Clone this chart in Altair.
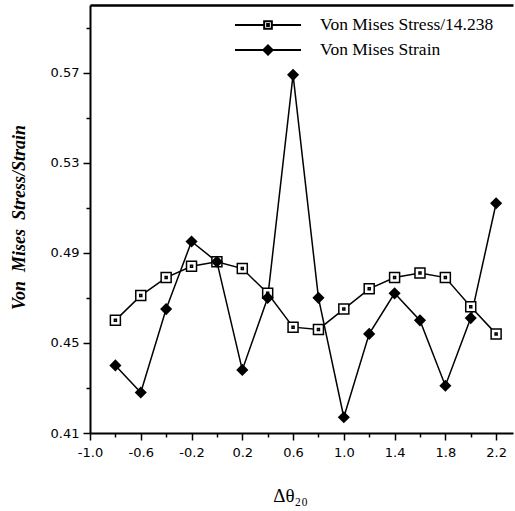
import altair as alt
import pandas as pd

# ---- data ----
delta_theta = [-0.8, -0.6, -0.4, -0.2, 0.0, 0.2, 0.4, 0.6, 0.8, 1.0, 1.2, 1.4, 1.6, 1.8, 2.0, 2.2]
stress_norm = [0.460, 0.471, 0.479, 0.484, 0.486, 0.483, 0.472, 0.457, 0.456, 0.465, 0.474, 0.479, 0.481, 0.479, 0.466, 0.454]
strain_vals = [0.440, 0.428, 0.465, 0.495, 0.486, 0.438, 0.470, 0.569, 0.470, 0.417, 0.454, 0.472, 0.460, 0.431, 0.461, 0.512]
series_names = ["Von Mises Stress/14.238", "Von Mises Strain"]
x_ticks = [-1.0, -0.8, -0.6, -0.4, -0.2, 0.0, 0.2, 0.4, 0.6, 0.8, 1.0, 1.2, 1.4, 1.6, 1.8, 2.0, 2.2]
y_ticks = [0.41, 0.43, 0.45, 0.47, 0.49, 0.51, 0.53, 0.55, 0.57, 0.59]

rows = []
for xv, v in zip(delta_theta, stress_norm):
    rows.append({"dtheta": xv, "value": v, "series": series_names[0]})
for xv, v in zip(delta_theta, strain_vals):
    rows.append({"dtheta": xv, "value": v, "series": series_names[1]})
df = pd.DataFrame(rows)

# marker shapes
square_path = "M-1,-1H1V1H-1ZM-0.2,-0.2H0.2V0.2H-0.2Z"
leg_square = "M-3,0H-0.35M0.35,0H3M-0.35,-0.35H0.35V0.35H-0.35ZM-0.08,-0.08H0.08V0.08H-0.08Z"
leg_diamond = "M-3,0H3M0,-0.42L0.42,0L0,0.42L-0.42,0Z"

xscale = alt.Scale(domain=[-1.0, 2.333], nice=False, zero=False)
yscale = alt.Scale(domain=[0.41, 0.60], nice=False, zero=False)

x_major = "abs(round(datum.value*10)) % 4 == 2"
y_major = "round(datum.value*100) % 4 == 1"

x_axis = alt.Axis(
    values=x_ticks,
    labelExpr=f"{x_major} ? (datum.value < 0 ? '-' : '') + format(abs(datum.value), '.1f') : ''",
    tickSize={"condition": {"test": x_major, "value": 7}, "value": 4},
    tickWidth=1.5, domainWidth=2, domainColor="black", tickColor="black",
    labelFont="DejaVu Sans", labelFontSize=13, labelColor="black",
    labelPadding=6, labelFlush=False, labelOverlap=False, grid=False,
    title="Δθ₂₀", titleFont="Liberation Serif", titleFontSize=19,
    titleFontWeight="normal", titleColor="black",
    titleX=200, titleY=62, titleBaseline="middle", titleAlign="center",
)

y_axis = alt.Axis(
    values=y_ticks,
    labelExpr=f"{y_major} ? format(datum.value, '.2f') : ''",
    tickSize={"condition": {"test": y_major, "value": 7}, "value": 4},
    tickWidth=1.5, domainWidth=2, domainColor="black", tickColor="black",
    labelFont="DejaVu Sans", labelFontSize=13, labelColor="black",
    labelPadding=4, labelOverlap=False, grid=False,
    title="Von\u00a0\u00a0Mises\u00a0\u00a0Stress/Strain", titleFont="Liberation Serif", titleFontSize=18,
    titleFontWeight="bold", titleFontStyle="italic", titleColor="black",
    titleX=-71, titleY=212, titleBaseline="middle", titleAlign="center", titleAngle=270,
)

top_axis = alt.Axis(orient="top", labels=False, ticks=False, title=None,
                    domainWidth=2.5, domainColor="black", grid=False)

base = alt.Chart(df)
Y = alt.Y("value:Q", scale=yscale, axis=y_axis)
X_plain = alt.X("dtheta:Q", scale=xscale, axis=None)

lines = base.mark_line(color="black", strokeWidth=1.5).encode(
    x=alt.X("dtheta:Q", scale=xscale, axis=x_axis), y=Y, detail="series:N",
)

points = base.mark_point(stroke="black", strokeWidth=1.5, opacity=1, size=100).encode(
    x=X_plain, y=Y,
    shape=alt.Shape("series:N", scale=alt.Scale(domain=series_names, range=[square_path, "diamond"]),
                    legend=None),
    fill=alt.Fill("series:N", scale=alt.Scale(domain=series_names, range=["white", "black"]),
                  legend=None),
)

legend = alt.Legend(
    title=None, orient="none", legendX=166, legendY=8,
    labelFont="Liberation Serif", labelFontSize=17.5, labelColor="black", labelLimit=400,
    labelOffset=40, symbolSize=484, symbolStrokeColor="black",
    symbolStrokeWidth=2, symbolOpacity=1, rowPadding=4, padding=0,
)

# legend-only layer: no rows survive the filter, entries come from the scale domain
legend_layer = base.transform_filter("false").mark_point(strokeWidth=2, opacity=1).encode(
    x=X_plain, y=Y,
    shape=alt.Shape("series:N", scale=alt.Scale(domain=series_names, range=[leg_square, leg_diamond]),
                    legend=legend),
    fill=alt.Fill("series:N", scale=alt.Scale(domain=series_names, range=["white", "black"]),
                  legend=legend),
    stroke=alt.Stroke("series:N", scale=alt.Scale(domain=series_names, range=["black", "black"]),
                      legend=legend),
)

top = base.mark_point(opacity=0).encode(
    x=alt.X("dtheta:Q", scale=xscale, axis=top_axis),
)

chart = alt.layer(lines, points, legend_layer, top).resolve_scale(
    shape="independent", fill="independent", stroke="independent"
).resolve_axis(x="independent").properties(
    width=423, height=428,
    padding={"left": 90, "top": 5, "right": 2, "bottom": 78},
    autosize="none",
).configure_view(stroke=None)

chart.save("out.html", embed_options={"renderer": "svg", "actions": False})
